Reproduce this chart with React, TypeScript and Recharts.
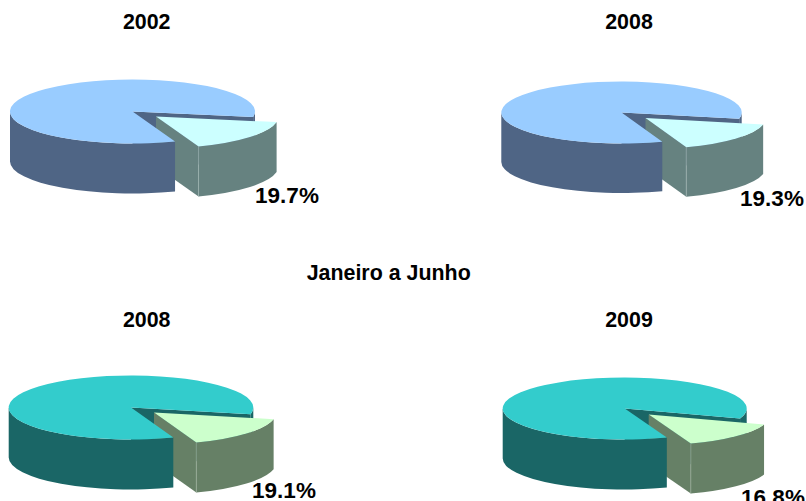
import React from 'react';
import { PieChart, Pie } from 'recharts';

const WIDTH = 806;
const HEIGHT = 501;

const pieYears = ['2002', '2008', '2008', '2009'];
const sliceShares = [19.7, 19.3, 19.1, 16.8];
const restShares = [80.3, 80.7, 80.9, 83.2];
const middleTitle = 'Janeiro a Junho';

// The tilted view of the original compresses the front arc of each pie.
const VIEW_COMPRESSION = 0.84;

const blueColors = { top: '#99CCFF', wall: '#4F6585', sliceTop: '#CCFFFF', sliceWall: '#668280', seam: '#9FB4B2' };
const tealColors = { top: '#33CCCC', wall: '#1A6666', sliceTop: '#CCFFCC', sliceWall: '#668066', seam: '#9DB09D' };

const layouts = [
  { cx: 132.5, cy: 111.5, rx: 122.5, ry: 32, depth: 50, ex: 23.5, ey: 5, start: -10.1, colors: blueColors, titleX: 146.7, titleY: 29, labelX: 287, labelY: 202.5 },
  { cx: 621.5, cy: 112.5, rx: 120.2, ry: 31, depth: 49.5, ex: 24, ey: 5.6, start: -11.8, colors: blueColors, titleX: 629, titleY: 29, labelX: 772, labelY: 205.5 },
  { cx: 131, cy: 407.5, rx: 122.3, ry: 32, depth: 50, ex: 23, ey: 5, start: -12, colors: tealColors, titleX: 146.7, titleY: 327, labelX: 284, labelY: 497.5 },
  { cx: 624.7, cy: 408.5, rx: 122, ry: 31, depth: 50, ex: 24, ey: 6, start: -19, colors: tealColors, titleX: 629, titleY: 327, labelX: 773, labelY: 504.5 },
];

type L = (typeof layouts)[number];

const pt = (l: L, a: number, ox = 0, oy = 0) => {
  const r = (a * Math.PI) / 180;
  return { x: l.cx + ox + l.rx * Math.cos(r), y: l.cy + oy - l.ry * Math.sin(r) };
};

// Side wall of the ring between angles hi > lo (clockwise on screen), limited to the front half.
const wallPath = (l: L, hi: number, lo: number, ox: number, oy: number) => {
  const a = Math.min(hi, 0);
  const b = Math.max(lo, -180);
  const p = pt(l, a, ox, oy);
  const q = pt(l, b, ox, oy);
  return `M${p.x},${p.y} A${l.rx},${l.ry} 0 0 1 ${q.x},${q.y} L${q.x},${q.y + l.depth} A${l.rx},${l.ry} 0 0 0 ${p.x},${p.y + l.depth} Z`;
};

const topPath = (l: L, hi: number, lo: number, ox: number, oy: number) => {
  const p = pt(l, hi, ox, oy);
  const q = pt(l, lo, ox, oy);
  const large = hi - lo > 180 ? 1 : 0;
  return `M${l.cx + ox},${l.cy + oy} L${p.x},${p.y} A${l.rx},${l.ry} 0 ${large} 1 ${q.x},${q.y} Z`;
};

const viewAngle = (l: L, a: number) => l.start - (l.start - a) * VIEW_COMPRESSION;

const makeShape = (l: L) => (props: any) => {
  const kind = props.kind ?? props.payload?.kind;
  const c = l.colors;
  if (kind === 'slice') {
    const hi = props.startAngle;
    const lo = viewAngle(l, props.endAngle);
    const cutP = pt(l, hi);
    const a = pt(l, lo, l.ex, l.ey);
    const ax = l.cx + l.ex;
    const ay = l.cy + l.ey;
    return (
      <g>
        <path d={wallPath(l, 0, hi, 0, 0)} fill={c.wall} />
        <path
          d={`M${l.cx},${l.cy} L${cutP.x},${cutP.y} L${cutP.x},${cutP.y + l.depth} L${l.cx},${l.cy + l.depth} Z`}
          fill={c.wall}
        />
        <path
          d={`M${ax},${ay} L${a.x},${a.y} L${a.x},${a.y + l.depth} L${ax},${ay + l.depth} Z`}
          fill={c.sliceWall}
        />
        <path d={wallPath(l, hi, lo, l.ex, l.ey)} fill={c.sliceWall} />
        <line x1={a.x} y1={a.y} x2={a.x} y2={a.y + l.depth} stroke={c.seam} strokeWidth={0.7} />
        <path d={topPath(l, hi, lo, l.ex, l.ey)} fill={c.sliceTop} />
      </g>
    );
  }
  const hi = viewAngle(l, props.startAngle);
  const lo = props.endAngle;
  return (
    <g>
      <path d={wallPath(l, hi, -180, 0, 0)} fill={c.wall} />
      <path d={topPath(l, hi, lo, 0, 0)} fill={c.top} />
    </g>
  );
};

const makeLabel = (l: L) => (props: any) => {
  const kind = props.kind ?? props.payload?.kind;
  if (kind !== 'slice') return <g />;
  return (
    <text x={l.labelX} y={l.labelY} textAnchor="middle" fontFamily="Liberation Sans" fontWeight="bold" fontSize={22.5} fill="#000">
      {`${props.value}%`}
    </text>
  );
};

const titleStyle = { fontFamily: 'Liberation Sans', fontWeight: 'bold', fontSize: 21.4, fill: '#000' } as const;

export default function App() {
  return (
    <div style={{ position: 'absolute', left: 0, top: 0, width: WIDTH, height: HEIGHT, overflow: 'hidden', background: '#fff' }}>
      <PieChart width={WIDTH} height={HEIGHT} margin={{ top: 0, right: 0, bottom: 0, left: 0 }}>
        {layouts.map((l, i) => (
          <Pie
            key={i}
            data={[
              { name: 'destaque', kind: 'slice', value: sliceShares[i] },
              { name: 'resto', kind: 'rest', value: restShares[i] },
            ]}
            dataKey="value"
            nameKey="name"
            cx={l.cx}
            cy={l.cy}
            innerRadius={0}
            outerRadius={l.rx}
            startAngle={l.start}
            endAngle={l.start - 360}
            stroke="none"
            shape={makeShape(l)}
            label={makeLabel(l)}
            labelLine={false}
            isAnimationActive={false}
          />
        ))}
        {layouts.map((l, i) => (
          <text key={i} x={l.titleX} y={l.titleY} textAnchor="middle" style={titleStyle}>
            {pieYears[i]}
          </text>
        ))}
        <text x={388.7} y={280} textAnchor="middle" style={titleStyle}>
          {middleTitle}
        </text>
      </PieChart>
    </div>
  );
}
